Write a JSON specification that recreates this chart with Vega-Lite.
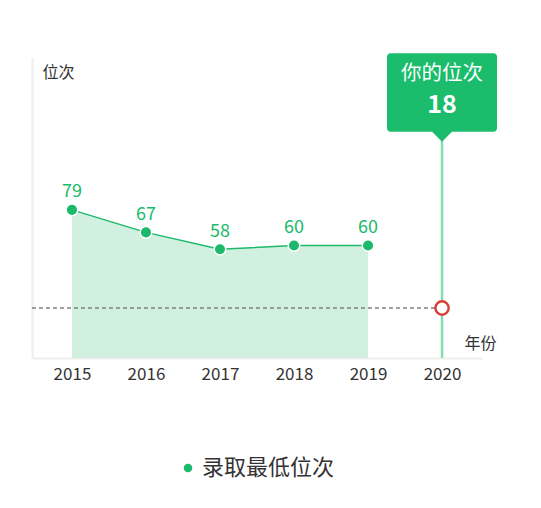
{
  "$schema": "https://vega.github.io/schema/vega-lite/v6.json",
  "width": 450,
  "height": 300,
  "autosize": "none",
  "padding": {"left": 32, "top": 58, "right": 59, "bottom": 150},
  "config": {
    "font": "Noto Sans CJK SC",
    "view": {"stroke": null},
    "legend": {"padding": 0}
  },
  "layer": [
    {
      "data": {
        "values": [
          {"year": "2015", "rank": 79},
          {"year": "2016", "rank": 67},
          {"year": "2017", "rank": 58},
          {"year": "2018", "rank": 60},
          {"year": "2019", "rank": 60}
        ]
      },
      "encoding": {
        "x": {
          "field": "year", "type": "ordinal",
          "scale": {"type": "point", "domain": ["2015", "2016", "2017", "2018", "2019", "2020"], "padding": 0.54},
          "axis": {
            "labelAngle": 0, "labelFontSize": 17, "labelColor": "#333", "labelPadding": 8,
            "ticks": false, "grid": false, "domainColor": "#eeeeee", "domainWidth": 2,
            "title": "年份", "titleX": 432, "titleY": -15, "titleAlign": "left", "titleBaseline": "middle",
            "titleFontSize": 16, "titleFontWeight": "normal", "titleColor": "#333"
          }
        },
        "y": {
          "field": "rank", "type": "quantitative",
          "scale": {"domain": [0, 160]},
          "axis": {
            "labels": false, "ticks": false, "grid": false, "domainColor": "#eeeeee", "domainWidth": 2,
            "title": "位次", "titleAngle": 0, "titleX": 10, "titleY": 14.5, "titleAlign": "left", "titleBaseline": "middle",
            "titleFontSize": 16, "titleFontWeight": "normal", "titleColor": "#333"
          }
        }
      },
      "layer": [
        {"mark": {"type": "area", "color": "#d1f0e0", "opacity": 1}},
        {"mark": {"type": "line", "color": "#1aba6a", "strokeWidth": 1.5}},
        {
          "mark": {"type": "point", "filled": true, "size": 133, "stroke": "white", "strokeWidth": 1.5, "opacity": 1},
          "encoding": {
            "color": {
              "datum": "录取最低位次",
              "scale": {"range": ["#1aba6a"]},
              "legend": {
                "title": null, "orient": "none", "legendX": 145, "legendY": 399,
                "symbolType": "circle", "symbolSize": 72, "symbolStrokeWidth": 0,
                "labelFontSize": 22, "labelColor": "#333", "labelOffset": 3
              }
            }
          }
        },
        {
          "mark": {"type": "text", "dy": -17.5, "fontSize": 18, "color": "#1aba6a"},
          "encoding": {"text": {"field": "rank"}}
        }
      ]
    },
    {
      "data": {"values": [{"year": "2020", "rank": 18}]},
      "encoding": {
        "x": {"field": "year", "type": "ordinal"},
        "y": {"field": "rank", "type": "quantitative", "scale": {"domain": [0, 108]}, "axis": null}
      },
      "layer": [
        {
          "mark": {"type": "rule", "color": "#808080", "strokeWidth": 1.5, "strokeDash": [4, 3], "xOffset": -40},
          "encoding": {"x": {"datum": "2015", "type": "ordinal"}, "x2": {"field": "year"}}
        },
        {
          "mark": {"type": "rule", "color": "#86dcae", "strokeWidth": 2.5},
          "encoding": {"y": {"datum": 0, "type": "quantitative"}, "y2": {"datum": 108}}
        },
        {
          "mark": {"type": "point", "shape": "circle", "filled": true, "fill": "white", "stroke": "#d8403a", "strokeWidth": 2.5, "size": 177, "opacity": 1}
        },
        {
          "mark": {
            "type": "point", "filled": true, "color": "#1bbd6c", "opacity": 1, "size": 12100, "yOffset": 34.5,
            "shape": "M-0.93,-0.713 L0.93,-0.713 Q1,-0.713 1,-0.64 L1,0.64 Q1,0.713 0.93,0.713 L0.18,0.713 L0,0.895 L-0.18,0.713 L-0.93,0.713 Q-1,0.713 -1,0.64 L-1,-0.64 Q-1,-0.713 -0.93,-0.713 Z"
          },
          "encoding": {"y": {"datum": 108, "type": "quantitative"}}
        },
        {
          "mark": {"type": "text", "text": "你的位次", "fontSize": 20.5, "color": "white", "baseline": "middle", "yOffset": 15.5},
          "encoding": {"y": {"datum": 108, "type": "quantitative"}}
        },
        {
          "mark": {"type": "text", "fontSize": 25, "fontWeight": "bold", "color": "white", "baseline": "middle", "yOffset": 47},
          "encoding": {"y": {"datum": 108, "type": "quantitative"}, "text": {"field": "rank"}}
        }
      ]
    }
  ],
  "resolve": {"scale": {"y": "independent"}}
}
